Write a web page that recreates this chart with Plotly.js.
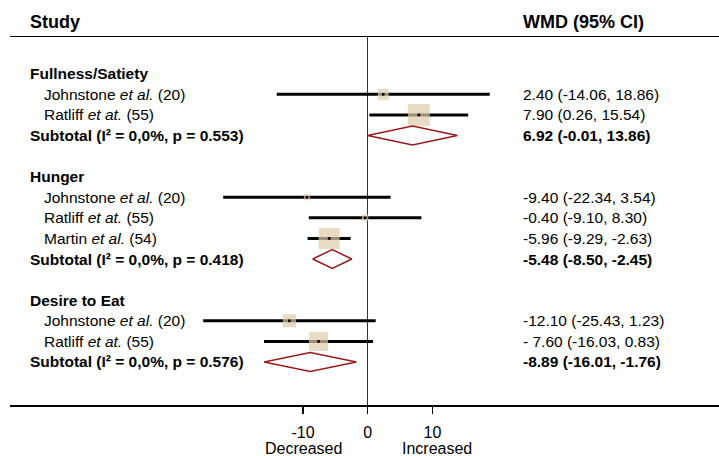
<!DOCTYPE html>
<html>
<head>
<meta charset="utf-8">
<script src="https://cdn.plot.ly/plotly-3.0.1.min.js"></script>
<style>html,body{margin:0;padding:0;background:#fff;}#chart{width:719px;height:456px;}</style>
</head>
<body>
<div id="chart"></div>
<script>
// ---------- data ----------
const groupNames = ['Fullness/Satiety', 'Hunger', 'Desire to Eat'];
const studyAuthors = ['Johnstone', 'Ratliff', 'Johnstone', 'Ratliff', 'Martin', 'Johnstone', 'Ratliff'];
const studyEtAl = ['et al.', 'et at.', 'et al.', 'et at.', 'et al.', 'et al.', 'et at.'];
const studyRefs = [20, 55, 20, 55, 54, 20, 55];
const studyGroup = [0, 0, 1, 1, 1, 2, 2];
const studyWMD = [2.40, 7.90, -9.40, -0.40, -5.96, -12.10, -7.60];
const studyLo = [-14.06, 0.26, -22.34, -9.10, -9.29, -25.43, -16.03];
const studyHi = [18.86, 15.54, 3.54, 8.30, -2.63, 1.23, 0.83];
const studyWeight = [20, 80, 6, 7, 73, 28, 60];
const studyCIText = ['2.40 (-14.06, 18.86)', '7.90 (0.26, 15.54)', '-9.40 (-22.34, 3.54)', '-0.40 (-9.10, 8.30)',
                     '-5.96 (-9.29, -2.63)', '-12.10 (-25.43, 1.23)', '- 7.60 (-16.03, 0.83)'];
const subWMD = [6.92, -5.48, -8.89];
const subLo = [-0.01, -8.50, -16.01];
const subHi = [13.86, -2.45, -1.76];
const subI2 = ['0,0%', '0,0%', '0,0%'];
const subP = ['0.553', '0.418', '0.576'];
const subCIText = ['6.92 (-0.01, 13.86)', '-5.48 (-8.50, -2.45)', '-8.89 (-16.01, -1.76)'];
const tickVals = [-10, 0, 10];
const tickLabels = ['-10', '0', '10'];
const directionLabels = ['Decreased', 'Increased'];

// ---------- layout rows ----------
const FONT = 'Liberation Sans, Arial, sans-serif';
const FS = 15.5;
let row = 0;
const groupRow = [], studyRow = [], subRow = [];
groupNames.forEach((g, gi) => {
  groupRow[gi] = row++;
  studyGroup.forEach((sg, si) => { if (sg === gi) studyRow[si] = row++; });
  subRow[gi] = row++;
  row++;
});

const traces = [];
// CI lines
const lx = [], ly = [];
studyWMD.forEach((v, i) => { lx.push(studyLo[i], studyHi[i], null); ly.push(studyRow[i], studyRow[i], null); });
traces.push({x: lx, y: ly, mode: 'lines', line: {color: '#000', width: 3}, hoverinfo: 'skip'});
// weight boxes
traces.push({x: studyWMD, y: studyRow, mode: 'markers', hoverinfo: 'skip',
  marker: {symbol: 'square', color: '#dfcba9', size: studyWeight.map(w => 2.46 * Math.sqrt(w)), line: {width: 0}}});
// centre points
traces.push({x: studyWMD, y: studyRow, mode: 'markers', hoverinfo: 'skip',
  marker: {symbol: 'square', color: '#000', size: 2.6, line: {width: 0}}});
// subtotal diamonds
const DH = 0.46;
subWMD.forEach((v, i) => {
  const r = subRow[i];
  traces.push({x: [subLo[i], v, subHi[i], v, subLo[i]], y: [r, r - DH, r, r + DH, r],
    mode: 'lines', fill: 'toself', fillcolor: '#ffffff', line: {color: '#9c1a1a', width: 1.5}, hoverinfo: 'skip'});
});

// ---------- annotations ----------
const ann = [];
function txt(text, xshift, y, opts) {
  ann.push(Object.assign({text: text, xref: 'paper', x: 0, xshift: xshift, xanchor: 'left', yref: 'y', y: y,
    yanchor: 'middle', showarrow: false, font: {family: FONT, size: FS, color: '#000'}}, opts || {}));
}
const LEFT = 18, INDENT = 32, RIGHT = 511;
[['<b>Study</b>', LEFT], ['<b>WMD (95% CI)</b>', RIGHT]].forEach(h => {
  ann.push({text: h[0], xref: 'paper', x: 0, xshift: h[1], xanchor: 'left', yref: 'paper', y: 1, yshift: 15,
    yanchor: 'middle', showarrow: false, font: {family: FONT, size: 18, color: '#000'}});
});
groupNames.forEach((g, gi) => {
  txt('<b>' + g + '</b>', LEFT, groupRow[gi]);
  txt('<b>Subtotal (I² = ' + subI2[gi] + ', p = ' + subP[gi] + ')</b>', LEFT, subRow[gi]);
  txt('<b>' + subCIText[gi] + '</b>', RIGHT, subRow[gi]);
});
studyAuthors.forEach((a, i) => {
  txt(a + ' <i>' + studyEtAl[i] + '</i> (' + studyRefs[i] + ')', INDENT, studyRow[i]);
  txt(studyCIText[i], RIGHT, studyRow[i]);
});
[-9.9, 10.7].forEach((xv, i) => {
  ann.push({text: directionLabels[i], xref: 'x', x: xv, xanchor: 'center', yref: 'paper', y: 0, yshift: -43,
    yanchor: 'middle', showarrow: false, font: {family: FONT, size: 16, color: '#000'}});
});

const layout = {
  width: 719, height: 456,
  margin: {l: 10, r: 0, t: 37, b: 51, pad: 0},
  paper_bgcolor: '#fff', plot_bgcolor: '#fff',
  showlegend: false,
  xaxis: {range: [-55.29, 54.3], tickvals: tickVals, ticktext: tickLabels, ticks: 'outside', ticklen: 7,
    tickwidth: 1.3, tickcolor: '#000', showgrid: false, zeroline: true, zerolinecolor: '#333', zerolinewidth: 1.5,
    showline: true, linecolor: '#000', linewidth: 1.5, mirror: true, fixedrange: true, ticklabelstandoff: 5,
    tickfont: {family: FONT, size: 16, color: '#000'}},
  yaxis: {range: [16.09, -1.784], showgrid: false, zeroline: false, showline: false, showticklabels: false,
    ticks: '', fixedrange: true},
  annotations: ann
};
Plotly.newPlot('chart', traces, layout, {displayModeBar: false, staticPlot: true});
</script>
</body>
</html>
